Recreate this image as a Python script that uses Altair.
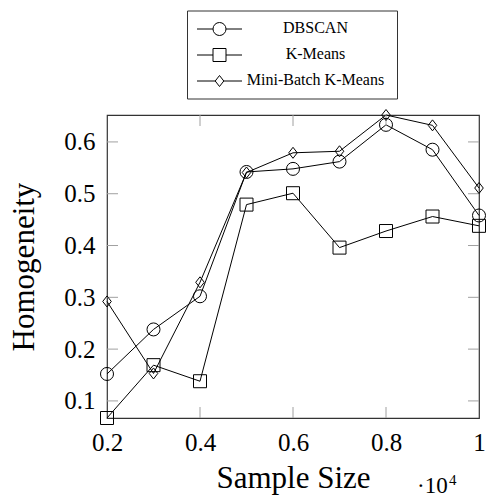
import altair as alt
import pandas as pd

# ---- data ----
sample_size = [0.2, 0.3, 0.4, 0.5, 0.6, 0.7, 0.8, 0.9, 1.0]   # x 10^4
dbscan = [0.152, 0.238, 0.302, 0.542, 0.548, 0.562, 0.633, 0.585, 0.458]
kmeans = [0.067, 0.169, 0.138, 0.479, 0.501, 0.396, 0.428, 0.456, 0.438]
minibatch = [0.292, 0.153, 0.329, 0.541, 0.579, 0.582, 0.652, 0.632, 0.511]
series_names = ["DBSCAN", "K-Means", "Mini-Batch K-Means"]
x_tick_values = [0.2, 0.4, 0.6, 0.8, 1.0]
x_inner_ticks = [0.4, 0.6, 0.8]
y_tick_values = [0.1, 0.2, 0.3, 0.4, 0.5, 0.6]

W, H = 372, 303
FONT = "Liberation Serif"
DIAMOND = "M0,-1L0.78,0L0,1L-0.78,0Z"
shapes = ["circle", "square", DIAMOND]
sizes = [169, 169, 121]

rows = []
for name, vals in zip(series_names, [dbscan, kmeans, minibatch]):
    for s, v in zip(sample_size, vals):
        rows.append({"size": s, "value": v, "series": name})
df = pd.DataFrame(rows)

all_vals = dbscan + kmeans + minibatch
xscale = alt.Scale(domain=[min(sample_size), max(sample_size)], nice=False, zero=False)
yscale = alt.Scale(domain=[min(all_vals), max(all_vals)], nice=False, zero=False)

x_axis = alt.Axis(
    values=x_tick_values,
    labelExpr="datum.value == 1 ? '1' : format(datum.value, '.1f')",
    labelFont=FONT, labelFontSize=25, labelColor="black", labelPadding=12,
    labelFlush=False, labelOverlap=False, labelBound=False,
    ticks=False, tickSize=0, domain=False, grid=False,
    title="Sample Size", titleFont=FONT, titleFontSize=31, titleFontWeight="normal",
    titleColor="black", titleX=186, titleY=69, titleBaseline="alphabetic", titleAlign="center",
)
y_axis = alt.Axis(
    values=y_tick_values, format=".1f",
    labelFont=FONT, labelFontSize=25, labelColor="black", labelPadding=12,
    labelFlush=False, labelOverlap=False, labelBound=False,
    ticks=False, tickSize=0, domain=False, grid=False,
    title="Homogeneity", titleFont=FONT, titleFontSize=31, titleFontWeight="normal",
    titleColor="black", titleX=-74, titleY=151.5, titleBaseline="alphabetic",
    titleAlign="center", titleAngle=270,
)

def X(field):
    return alt.X(field, scale=xscale, axis=x_axis)

def Y(field):
    return alt.Y(field, scale=yscale, axis=y_axis)

layers = []
lines = alt.Chart(df).mark_line(color="black", strokeWidth=1).encode(
    x=X("size:Q"), y=Y("value:Q"), detail="series:N",
)
layers.append(lines)

# inward ticks
tick_col = "#a0a0a0"
xt = alt.Chart(pd.DataFrame({"size": x_inner_ticks}))
yt = alt.Chart(pd.DataFrame({"value": y_tick_values}))
layers.append(xt.mark_rule(color=tick_col, strokeWidth=1).encode(
    x=X("size:Q"), y=alt.value(H), y2=alt.value(H - 11)))
layers.append(xt.mark_rule(color=tick_col, strokeWidth=1).encode(
    x=X("size:Q"), y=alt.value(0), y2=alt.value(11)))
layers.append(yt.mark_rule(color=tick_col, strokeWidth=1).encode(
    y=Y("value:Q"), x=alt.value(0), x2=alt.value(11)))
layers.append(yt.mark_rule(color=tick_col, strokeWidth=1).encode(
    y=Y("value:Q"), x=alt.value(W - 11), x2=alt.value(W)))

for name, shp, sz in zip(series_names, shapes, sizes):
    layers.append(
        alt.Chart(df[df["series"] == name]).mark_point(
            shape=shp, size=sz, filled=False, color="black", strokeWidth=1, opacity=1
        ).encode(x=X("size:Q"), y=Y("value:Q"))
    )

# legend box above the plot
one = pd.DataFrame({"a": [0]})
layers.append(alt.Chart(one).mark_rect(fill="white", stroke="#333", strokeWidth=1).encode(
    x=alt.value(80.5), x2=alt.value(290.5), y=alt.value(-104), y2=alt.value(-16)))
leg_y = [-86, -60, -34]
for name, shp, sz, ly in zip(series_names, shapes, sizes, leg_y):
    layers.append(alt.Chart(one).mark_rule(color="black", strokeWidth=1).encode(
        x=alt.value(90), x2=alt.value(135), y=alt.value(ly)))
    layers.append(alt.Chart(one).mark_point(
        shape=shp, size=sz, filled=False, color="black", strokeWidth=1, opacity=1, fill="white"
    ).encode(x=alt.value(112.5), y=alt.value(ly)))
    layers.append(alt.Chart(pd.DataFrame({"t": [name]})).mark_text(
        font=FONT, fontSize=16, color="black", align="center", baseline="alphabetic"
    ).encode(text="t:N", x=alt.value(208.5), y=alt.value(ly + 3.5)))

# x10^4 multiplier
layers.append(alt.Chart(pd.DataFrame({"t": ["·10"]})).mark_text(
    font=FONT, fontSize=23, color="black", align="left", baseline="alphabetic"
).encode(text="t:N", x=alt.value(310), y=alt.value(378)))
layers.append(alt.Chart(pd.DataFrame({"t": ["4"]})).mark_text(
    font=FONT, fontSize=15, color="black", align="left", baseline="alphabetic"
).encode(text="t:N", x=alt.value(342), y=alt.value(370)))

chart = alt.layer(*layers).properties(
    width=W, height=H,
    padding={"left": 107, "top": 115, "right": 7, "bottom": 84},
    autosize=alt.AutoSizeParams(type="none"),
    background="white",
).configure_view(stroke="#333", strokeWidth=1.2).configure_axis(
    labelFont=FONT, titleFont=FONT
).configure_text(font=FONT)

chart.save("out.html", embed_options={"renderer": "svg", "actions": False})
